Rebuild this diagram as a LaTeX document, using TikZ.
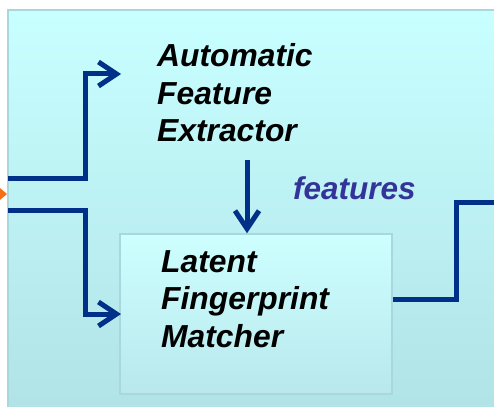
\documentclass[tikz,border=0pt]{standalone}
\usepackage{fontspec}
\setmainfont{Liberation Sans}
\usetikzlibrary{arrows.meta}
\definecolor{flow}{RGB}{0,48,135}
\definecolor{featcol}{RGB}{51,51,153}
\definecolor{panelTop}{RGB}{200,255,255}
\definecolor{panelBot}{RGB}{176,226,230}
\definecolor{boxTop}{RGB}{206,255,255}
\definecolor{boxBot}{RGB}{184,232,236}
\definecolor{rim}{RGB}{168,216,222}
\definecolor{inOrange}{RGB}{245,110,20}
\tikzset{
  flowline/.style={draw=flow, line width=5pt},
  flowarrow/.style={flowline, -{Straight Barb[length=18pt,width=24pt]}},
  label text/.style={inner sep=0pt, align=left, anchor=base west,
    font=\fontsize{31.8}{37.5}\selectfont\bfseries\itshape},
}
\begin{document}
\begin{tikzpicture}[x=1pt,y=-1pt]
\useasboundingbox (0,0) rectangle (494,406);
\clip (0,0) rectangle (494,406);
% background panel
\path[top color=panelTop, bottom color=panelBot, draw=rim, line width=2pt]
  (8,10) rectangle (510,420);
% incoming arrowhead at the left edge
\fill[inOrange] (7,194) -- (-6,183) -- (-6,205) -- cycle;
% blocks (base anchor sits on the last line of each text)
\node[label text] (ext) at (157,142) {Automatic\\Feature\\Extractor};
\node[draw=rim, line width=1.5pt, top color=boxTop, bottom color=boxBot,
      minimum width=272pt, minimum height=160pt, inner sep=0pt]
  (lfm) at (256,314) {};
\node[label text] (lfmtext) at (161,347) {Latent\\Fingerprint\\Matcher};
\node[label text, text=featcol, font=\fontsize{31.5}{36}\selectfont\bfseries\itshape]
  (feat) at (293,199) {features};
% connector end points
\coordinate (inA) at (8,178);
\coordinate (inB) at (8,210);
\coordinate (toExt) at (121,74);
\coordinate (toLfm) at (121,314);
\coordinate (extOut) at (247,160);
\coordinate (outEnd) at (500,202);
% connectors
\draw[flowarrow] (inA) -| (85,74) -- (toExt);
\draw[flowarrow] (inB) -| (85,314) -- (toLfm);
\draw[flowarrow] (extOut) -- (extOut |- lfm.north);
\draw[flowline] (lfm.east |- 0,299) -| (456,202) -- (outEnd);
\end{tikzpicture}
\end{document}
